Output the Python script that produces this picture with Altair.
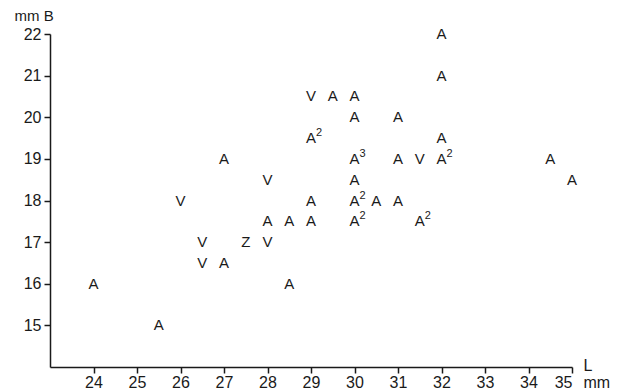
import altair as alt
import pandas as pd

# data
L_vals = [24, 25.5, 26, 26.5, 26.5, 27, 27, 27.5, 28, 28, 28, 28.5, 28.5,
          29, 29, 29, 29, 29.5, 30, 30, 30, 30, 30, 30, 30.5, 31, 31, 31,
          31.5, 31.5, 32, 32, 32, 32, 34.5, 35]
B_vals = [16, 15, 18, 17, 16.5, 16.5, 19, 17, 17, 17.5, 18.5, 17.5, 16,
          17.5, 18, 19.5, 20.5, 20.5, 20.5, 20, 19, 18.5, 18, 17.5, 18, 18, 19, 20,
          19, 17.5, 19, 19.5, 21, 22, 19, 18.5]
letters = ["A", "A", "V", "V", "V", "A", "A", "Z", "V", "A", "V", "A", "A",
           "A", "A", "A", "V", "A", "A", "A", "A", "A", "A", "A", "A", "A", "A", "A",
           "V", "A", "A", "A", "A", "A", "A", "A"]
counts = ["", "", "", "", "", "", "", "", "", "", "", "", "",
          "", "", "2", "", "", "", "", "3", "", "2", "2", "", "", "", "",
          "", "2", "2", "", "", "", "", ""]
x_ticks = list(range(24, 36))
y_ticks = list(range(15, 23))

df = pd.DataFrame({"L": L_vals, "B": B_vals, "letter": letters, "n": counts})

FONT = "Liberation Sans"
INK = "#1a1a1a"

xs = alt.Scale(domain=[23, 35], nice=False, zero=False)
ys = alt.Scale(domain=[14, 22], nice=False, zero=False)

x_axis = alt.Axis(values=x_ticks, grid=False, domainColor=INK, domainWidth=1.5,
                  tickColor=INK, tickWidth=1.5, tickSize=6, labelFont=FONT,
                  labelFontSize=16, labelColor=INK, labelPadding=1,
                  title=["L", "mm"], titleFont=FONT, titleFontSize=16,
                  titleFontWeight="normal", titleColor=INK, titleAlign="left",
                  titleBaseline="top", titleAnchor="start", titleX=533, titleY=-10,
                  titleLineHeight=17)
y_axis = alt.Axis(values=y_ticks, grid=False, domainColor=INK, domainWidth=1.5,
                  tickColor=INK, tickWidth=1.5, tickSize=6, labelFont=FONT,
                  labelFontSize=16, labelColor=INK, labelPadding=3,
                  title="mm B", titleFont=FONT, titleFontSize=15,
                  titleFontWeight="normal", titleColor=INK, titleAngle=0,
                  titleAlign="left", titleBaseline="middle", titleX=-36, titleY=-19)

base = alt.Chart(df)

letters_layer = base.mark_text(font=FONT, fontSize=15, color=INK,
                               align="center", baseline="middle").encode(
    x=alt.X("L:Q", scale=xs, axis=x_axis),
    y=alt.Y("B:Q", scale=ys, axis=y_axis),
    text="letter:N",
)

sup_layer = base.mark_text(font=FONT, fontSize=11, color=INK, align="left",
                           baseline="middle", dx=5, dy=-5).encode(
    x=alt.X("L:Q", scale=xs),
    y=alt.Y("B:Q", scale=ys),
    text="n:N",
)

chart = alt.layer(letters_layer, sup_layer).properties(
    width=522, height=333,
    autosize=alt.AutoSizeParams(type="none"),
    padding={"left": 42, "top": 26, "right": 40, "bottom": 24},
    background="white",
).configure_view(stroke=None)

chart.save("out.html", embed_options={"renderer": "svg", "actions": False})
